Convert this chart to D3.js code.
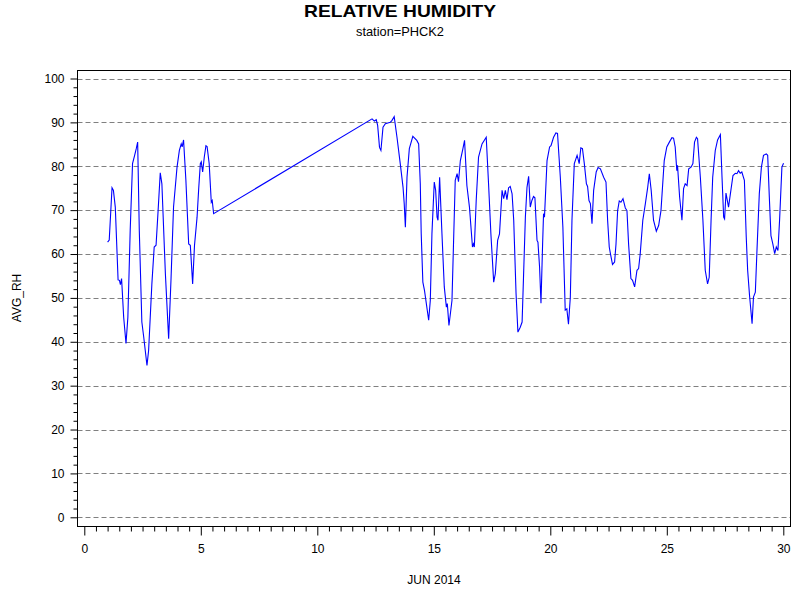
<!DOCTYPE html>
<html>
<head>
<meta charset="utf-8">
<script src="https://cdn.jsdelivr.net/npm/d3@7"></script>
<style>
  body { margin: 0; background: #fff; }
  svg text { font-family: "Liberation Sans", Arial, sans-serif; fill: #000; }
</style>
</head>
<body>
<div class="rh-chart"></div>
<script>
// day of month (fractional) and hourly-ish average relative humidity
const days = [
  1.00, 1.07, 1.19, 1.25, 1.33, 1.45, 1.51, 1.55, 1.60, 1.69, 1.79, 1.87, 1.97, 2.07, 2.16, 2.23, 2.29,
  2.36, 2.47, 2.55, 2.69, 2.76, 2.90, 3.00, 3.08, 3.16, 3.26, 3.33, 3.48, 3.62, 3.72, 3.83, 3.98, 4.08,
  4.16, 4.20, 4.26, 4.36, 4.48, 4.55, 4.65, 4.73, 4.84, 4.91, 4.98, 5.02, 5.08, 5.15, 5.22, 5.27, 5.36,
  5.45, 5.49, 5.55,
  12.35, 12.45, 12.53, 12.59, 12.67, 12.73, 12.82, 12.92, 13.13, 13.20, 13.30, 13.42, 13.56, 13.68,
  13.73, 13.78, 13.85, 13.95, 14.10, 14.27, 14.35, 14.42, 14.46, 14.53, 14.60, 14.78, 14.85, 14.92,
  15.02, 15.08, 15.14, 15.18, 15.25, 15.35, 15.45, 15.54, 15.58, 15.65, 15.78, 15.92, 16.00, 16.06,
  16.14, 16.25, 16.32, 16.42, 16.53, 16.66, 16.70, 16.74, 16.82, 16.92, 17.07, 17.25, 17.35, 17.45,
  17.57, 17.64, 17.74, 17.82, 17.93, 18.00, 18.07, 18.14, 18.21, 18.28, 18.36, 18.43, 18.53, 18.61,
  18.71, 18.79, 18.85, 18.93, 19.00, 19.07, 19.14, 19.21, 19.28, 19.34, 19.43, 19.47, 19.54, 19.60,
  19.67, 19.71, 19.75, 19.86, 19.97, 20.03, 20.14, 20.24, 20.31, 20.43, 20.54, 20.64, 20.71, 20.78,
  20.86, 20.93, 21.03, 21.15, 21.19, 21.24, 21.31, 21.38, 21.46, 21.55, 21.60, 21.66, 21.72, 21.79,
  21.86, 21.97, 22.05, 22.15, 22.29, 22.39, 22.46, 22.53, 22.58, 22.67, 22.76, 22.82, 22.89, 22.96,
  23.03, 23.12, 23.22, 23.29, 23.36, 23.46, 23.53, 23.62, 23.72, 23.79, 23.86, 23.97, 24.08, 24.18,
  24.25, 24.33, 24.43, 24.55, 24.65, 24.75, 24.89, 25.00, 25.11, 25.22, 25.29, 25.36, 25.43, 25.46,
  25.55, 25.65, 25.72, 25.79, 25.87, 25.94, 26.04, 26.12, 26.19, 26.27, 26.32, 26.44, 26.55, 26.65,
  26.75, 26.82, 26.90, 26.97, 27.08, 27.18, 27.30, 27.37, 27.44, 27.48, 27.54, 27.65, 27.75, 27.84,
  27.94, 28.01, 28.08, 28.15, 28.22, 28.33, 28.41, 28.47, 28.55, 28.66, 28.72, 28.80, 28.87, 28.97,
  29.06, 29.15, 29.27, 29.33, 29.40, 29.47, 29.55, 29.63, 29.70, 29.77, 29.84, 29.94, 30.01
];
const avgRH = [
  62.7, 63.2, 75.1, 74.5, 70.7, 54.1, 54.0, 53.0, 54.4, 45.6, 39.6, 45.6, 65.4, 80.6, 82.5, 84.0, 85.5,
  65.4, 44.5, 41.1, 34.6, 38.0, 53.2, 61.6, 62.0, 69.2, 78.5, 76.0, 55.5, 40.7, 54.0, 70.7, 79.8, 83.6,
  85.1, 84.4, 86.0, 76.8, 62.3, 62.0, 53.2, 62.0, 68.4, 74.9, 80.6, 81.0, 78.7, 82.1, 84.7, 84.5, 80.6,
  71.8, 72.2, 69.2,
  90.8, 90.3, 90.6, 89.3, 84.3, 83.6, 88.9, 89.7, 90.0, 90.4, 91.3, 86.6, 80.6, 75.2,
  71.5, 66.1, 77.5, 84.0, 86.8, 85.9, 85.1, 76.0, 64.6, 53.6, 51.7, 44.9, 49.4, 64.6,
  76.4, 74.5, 68.4, 67.7, 77.5, 64.6, 52.5, 47.9, 48.7, 43.7, 49.4, 76.8, 78.3, 76.5,
  81.3, 84.0, 85.9, 75.6, 70.7, 61.6, 62.3, 61.6, 72.2, 82.1, 85.1, 86.6, 76.0, 64.6,
  53.6, 55.5, 63.1, 64.6, 74.5, 72.6, 74.5, 72.4, 75.1, 75.4, 73.7, 67.7, 51.0, 42.2,
  43.3, 44.5, 54.7, 68.4, 75.2, 77.7, 70.7, 72.2, 73.1, 72.8, 63.1, 62.7, 57.0, 48.8,
  62.3, 69.2, 68.4, 81.3, 84.4, 84.7, 86.6, 87.6, 87.5, 77.5, 66.1, 47.2, 47.5, 44.0,
  50.2, 67.7, 80.6, 82.5, 81.7, 80.6, 84.2, 84.0, 80.6, 76.0, 75.4, 72.2, 71.5, 66.9,
  74.5, 78.7, 79.7, 79.4, 77.5, 76.4, 67.7, 61.6, 60.1, 57.6, 58.2, 62.3, 69.9, 72.1,
  71.8, 72.6, 70.5, 69.9, 62.3, 54.4, 54.0, 52.5, 56.3, 56.7, 60.1, 67.7, 71.5, 75.2,
  78.3, 74.5, 67.7, 65.2, 66.5, 69.9, 81.3, 84.4, 85.5, 86.5, 86.4, 84.4, 79.0, 80.2,
  73.0, 67.7, 74.9, 76.0, 75.6, 79.4, 79.8, 80.6, 85.5, 86.6, 86.3, 77.5, 67.7, 56.3,
  53.2, 54.7, 67.7, 77.5, 83.6, 86.0, 87.2, 77.5, 68.4, 68.0, 73.9, 70.7, 74.5, 77.9,
  78.4, 78.3, 79.0, 78.4, 78.7, 76.8, 63.8, 56.3, 50.6, 44.1, 50.2, 51.3, 60.8, 73.7,
  79.8, 82.5, 82.8, 82.5, 73.0, 64.2, 62.3, 60.1, 61.6, 60.8, 67.7, 79.8, 80.7
];
const xTicks = [0, 5, 10, 15, 20, 25, 30];
const yTicks = [0, 10, 20, 30, 40, 50, 60, 70, 80, 90, 100];

const data = days.map((d, i) => ({ day: d, rh: avgRH[i] }));

const width = 800;
const height = 600;
const frame = { left: 77.5, top: 70.5, right: 790.5, bottom: 526.5 };

const x = d3.scaleLinear().domain([0, 30]).range([84.3, 783.3]);
const y = d3.scaleLinear().domain([0, 100]).range([517.3, 78.5]);

const svg = d3
  .select('.rh-chart')
  .append('svg')
  .attr('width', width)
  .attr('height', height);

// Titles
svg
  .append('text')
  .attr('x', 400)
  .attr('y', 17)
  .attr('text-anchor', 'middle')
  .attr('font-size', 17)
  .attr('font-weight', 'bold')
  .attr('textLength', 192)
  .attr('lengthAdjust', 'spacingAndGlyphs')
  .text('RELATIVE HUMIDITY');

svg
  .append('text')
  .attr('x', 400)
  .attr('y', 36)
  .attr('text-anchor', 'middle')
  .attr('font-size', 12.5)
  .attr('textLength', 88)
  .attr('lengthAdjust', 'spacingAndGlyphs')
  .text('station=PHCK2');

// Reference grid lines
svg
  .append('g')
  .selectAll('line')
  .data(yTicks)
  .enter()
  .append('line')
  .attr('x1', frame.left)
  .attr('x2', frame.right)
  .attr('y1', d => Math.round(y(d)) + 0.5)
  .attr('y2', d => Math.round(y(d)) + 0.5)
  .attr('stroke', '#808080')
  .attr('stroke-dasharray', '5,3');

// Y axis - major and minor ticks
svg
  .append('g')
  .attr('transform', 'translate(' + frame.left + ',0)')
  .call(d3.axisLeft(y).tickValues(yTicks).tickSize(7).tickPadding(6).tickFormat(d3.format('d')));

svg
  .append('g')
  .attr('transform', 'translate(' + frame.left + ',0)')
  .call(
    d3
      .axisLeft(y)
      .tickValues(d3.range(0, 101, 2).filter(v => v % 10 !== 0))
      .tickSize(4)
      .tickFormat('')
  );

// X axis - major and minor ticks
svg
  .append('g')
  .attr('transform', 'translate(0,' + frame.bottom + ')')
  .call(d3.axisBottom(x).tickValues(xTicks).tickSize(9).tickPadding(9));

svg
  .append('g')
  .attr('transform', 'translate(0,' + frame.bottom + ')')
  .call(
    d3
      .axisBottom(x)
      .tickValues(d3.range(0.5, 30, 0.5).filter(v => v % 5 !== 0))
      .tickSize(5)
      .tickFormat('')
  );

svg.selectAll('.domain').remove();
svg.selectAll('.tick line').attr('stroke', '#000');
svg
  .selectAll('.tick text')
  .attr('font-size', 12)
  .attr('font-family', '"Liberation Sans", Arial, sans-serif')
  .attr('fill', '#000');

// Frame
svg
  .append('rect')
  .attr('x', frame.left)
  .attr('y', frame.top)
  .attr('width', frame.right - frame.left)
  .attr('height', frame.bottom - frame.top)
  .attr('fill', 'none')
  .attr('stroke', '#000')
  .attr('stroke-width', 1);

// Data line
svg
  .append('path')
  .datum(data)
  .attr('fill', 'none')
  .attr('stroke', '#0000ff')
  .attr('stroke-width', 1.1)
  .attr(
    'd',
    d3
      .line()
      .x(d => x(d.day))
      .y(d => y(d.rh))
  );

// Axis labels
svg
  .append('text')
  .attr('x', (frame.left + frame.right) / 2)
  .attr('y', 584)
  .attr('text-anchor', 'middle')
  .attr('font-size', 12)
  .text('JUN 2014');

svg
  .append('text')
  .attr('transform', 'translate(21,298) rotate(-90)')
  .attr('text-anchor', 'middle')
  .attr('font-size', 12)
  .text('AVG_RH');
</script>
</body>
</html>
